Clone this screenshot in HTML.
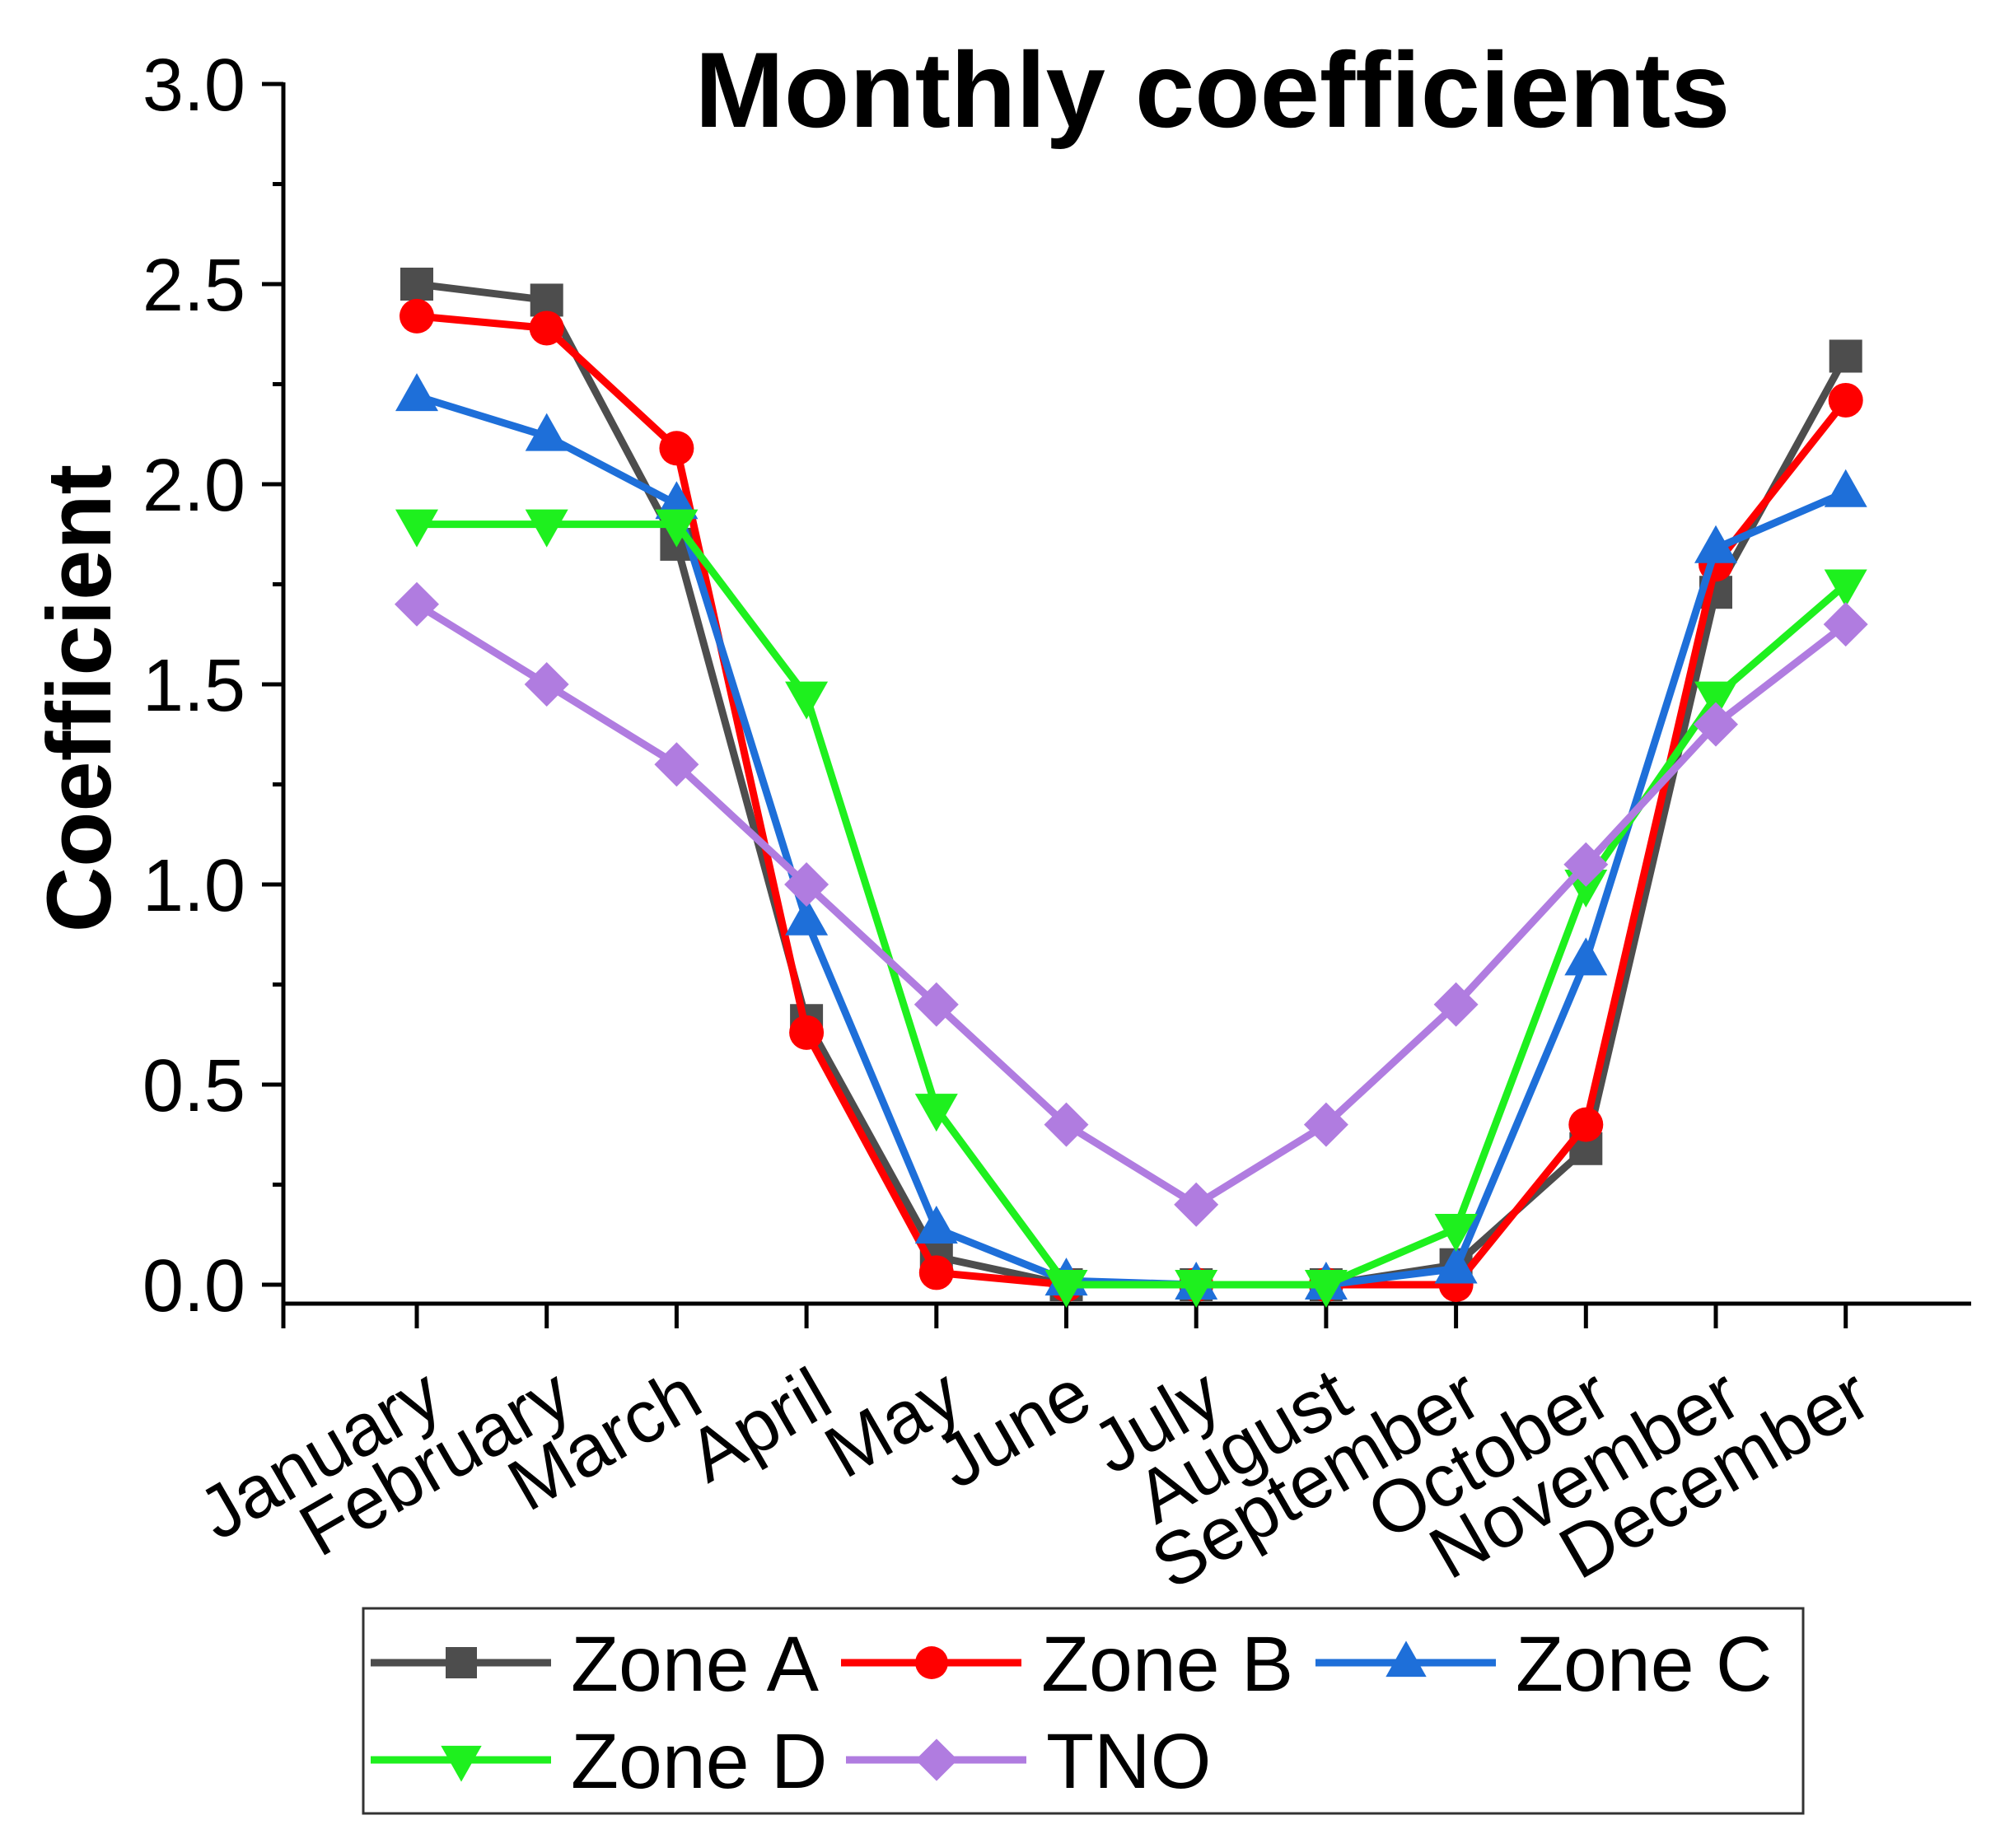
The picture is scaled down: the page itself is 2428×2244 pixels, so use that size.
<!DOCTYPE html>
<html><head><meta charset="utf-8"><style>
html,body{margin:0;padding:0;background:#fff;}
svg{display:block;font-family:"Liberation Sans",Arial,sans-serif;}
</style></head><body>
<svg id="chart" width="2428" height="2244" viewBox="0 0 2428 2244" xmlns="http://www.w3.org/2000/svg">
<rect width="2428" height="2244" fill="#fff"/>
<text x="1472" y="154" font-size="130" font-weight="bold" text-anchor="middle">Monthly coefficients</text>
<text transform="translate(134,848) rotate(-90)" font-size="110" font-weight="bold" text-anchor="middle">Coefficient</text>
<g id="axes"></g>
<g id="series"></g>
<g id="legend"></g>
</svg>
<script>
const months = ["January","February","March","April","May","June","July","August","September","October","November","December"];
const zoneA = [2.50,2.46,1.85,0.66,0.07,0,0,0,0.05,0.34,1.73,2.32];
const zoneB = [2.42,2.39,2.09,0.63,0.03,0,0,0,0,0.40,1.80,2.21];
const zoneC = [2.22,2.12,1.95,0.91,0.14,0.01,0,0,0.04,0.81,1.84,1.98];
const zoneD = [1.90,1.90,1.90,1.47,0.44,0,0,0,0.14,1.00,1.47,1.75];
const tno = [1.70,1.50,1.30,1.00,0.70,0.40,0.20,0.40,0.70,1.05,1.40,1.65];
const yTicks = ["0.0","0.5","1.0","1.5","2.0","2.5","3.0"];
const seriesNames = ["Zone A","Zone B","Zone C","Zone D","TNO"];

const NS="http://www.w3.org/2000/svg";
const X0=506, DX=157.7, AX=344, AXR=2393, AY=1583;
const Y0=1560, YS=486;
function xPos(i){return X0+i*DX;}
function yPos(v){return Y0-v*YS;}
function mk(tag,attrs,parent){const e=document.createElementNS(NS,tag);for(const k in attrs)e.setAttribute(k,attrs[k]);parent.appendChild(e);return e;}

const axes=document.getElementById('axes');
let e;
e=mk('line',{x1:AX,y1:yPos(3)-2,x2:AX,y2:AY+30,stroke:'#000','stroke-width':5},axes);


e=mk('line',{x1:AX-2,y1:AY,x2:AXR,y2:AY,stroke:'#000','stroke-width':5},axes);


yTicks.forEach((t)=>{
  const v=parseFloat(t);
  const y=yPos(v);
  const tk=mk('line',{x1:AX-26,y1:y,x2:AX,y2:y,stroke:'#000','stroke-width':5},axes);
  
  
  const tx=mk('text',{x:298,y:y+32,'font-size':90,'text-anchor':'end'},axes);
  tx.textContent=t;
  
  
  if(v<3){
    const m=mk('line',{x1:AX-13,y1:yPos(v+0.25),x2:AX,y2:yPos(v+0.25),stroke:'#000','stroke-width':5},axes);
    
    
  }
});
mk('line',{x1:AX,y1:AY,x2:AX,y2:AY+30,stroke:'#000','stroke-width':5},axes);
months.forEach((m,i)=>{
  const x=xPos(i);
  const tk=mk('line',{x1:x,y1:AY,x2:x,y2:AY+30,stroke:'#000','stroke-width':5},axes);
  
  
  const tx=mk('text',{transform:`translate(${x+36},${1712}) rotate(-30)`,'font-size':90,'text-anchor':'end'},axes);
  tx.textContent=m;
  
  
});

const colors=["#4d4d4d","#ff0000","#1e6fd9","#1ef01e","#b07ce0"];
const markers=["square","circle","tri-up","tri-down","diamond"];
function marker(type,x,y,color,parent,s){
  s=s||1;
  if(type==='square') return mk('rect',{x:x-20*s,y:y-20*s,width:40*s,height:40*s,fill:color},parent);
  if(type==='circle') return mk('circle',{cx:x,cy:y,r:21*s,fill:color},parent);
  if(type==='tri-up') return mk('polygon',{points:`${x},${y-28*s} ${x+26*s},${y+18*s} ${x-26*s},${y+18*s}`,fill:color},parent);
  if(type==='tri-down') return mk('polygon',{points:`${x},${y+28*s} ${x+26*s},${y-18*s} ${x-26*s},${y-18*s}`,fill:color},parent);
  return mk('polygon',{points:`${x},${y-27*s} ${x+27*s},${y} ${x},${y+27*s} ${x-27*s},${y}`,fill:color},parent);
}
const sg=document.getElementById('series');
[zoneA,zoneB,zoneC,zoneD,tno].forEach((arr,si)=>{
  const g=mk('g',{},sg);
  
  
  const pl=mk('polyline',{points:arr.map((v,i)=>xPos(i)+','+yPos(v)).join(' '),fill:'none',stroke:colors[si],'stroke-width':9,'stroke-linejoin':'round'},g);
  
  
  arr.forEach((v,i)=>{
    const mm=marker(markers[si],xPos(i),yPos(v),colors[si],g);
    
    
  });
});

const lg=document.getElementById('legend');
mk('rect',{x:441,y:1953,width:1748,height:249,fill:'#fff',stroke:'#333','stroke-width':3},lg);
const legPos=[[450,2019],[1021,2019],[1597,2019],[450,2137],[1027,2137]];
seriesNames.forEach((n,si)=>{
  const [lx,ly]=legPos[si];
  const g=mk('g',{},lg);
  
  
  mk('line',{x1:lx,y1:ly,x2:lx+219,y2:ly,stroke:colors[si],'stroke-width':9},g);
  marker(markers[si],lx+110,ly,colors[si],g,0.95);
  const t=mk('text',{x:lx+243,y:ly+34,'font-size':95},g);
  t.textContent=n;
});
</script>
</body></html>
